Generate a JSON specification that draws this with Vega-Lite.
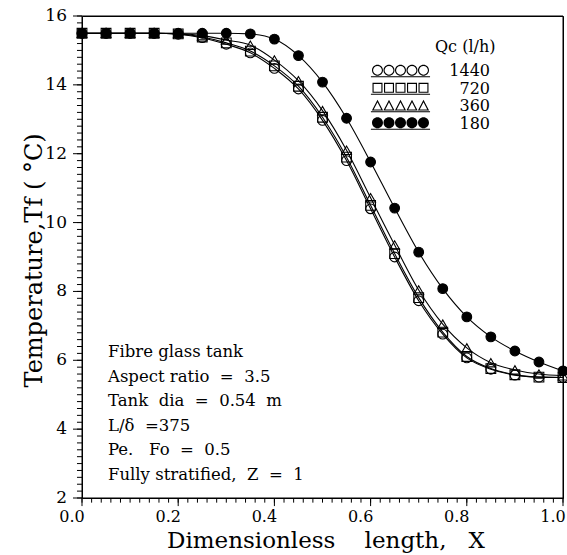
{
  "$schema": "https://vega.github.io/schema/vega-lite/v6.json",
  "width": 481,
  "height": 482,
  "autosize": "none",
  "padding": {"left": 82, "top": 16, "right": 4, "bottom": 57},
  "background": "white",
  "config": {
    "font": "DejaVu Serif",
    "view": {"stroke": "black", "strokeWidth": 1}
  },
  "datasets": {
    "xMinor": [
      {"v": 0.00}, {"v": 0.02}, {"v": 0.04}, {"v": 0.06}, {"v": 0.08}, {"v": 0.10}, {"v": 0.12}, {"v": 0.14}, {"v": 0.16}, {"v": 0.18},
      {"v": 0.20}, {"v": 0.22}, {"v": 0.24}, {"v": 0.26}, {"v": 0.28}, {"v": 0.30}, {"v": 0.32}, {"v": 0.34}, {"v": 0.36}, {"v": 0.38},
      {"v": 0.40}, {"v": 0.42}, {"v": 0.44}, {"v": 0.46}, {"v": 0.48}, {"v": 0.50}, {"v": 0.52}, {"v": 0.54}, {"v": 0.56}, {"v": 0.58},
      {"v": 0.60}, {"v": 0.62}, {"v": 0.64}, {"v": 0.66}, {"v": 0.68}, {"v": 0.70}, {"v": 0.72}, {"v": 0.74}, {"v": 0.76}, {"v": 0.78},
      {"v": 0.80}, {"v": 0.82}, {"v": 0.84}, {"v": 0.86}, {"v": 0.88}, {"v": 0.90}, {"v": 0.92}, {"v": 0.94}, {"v": 0.96}, {"v": 0.98},
      {"v": 1.00}
    ],
    "xMajor": [{"v": 0.0}, {"v": 0.2}, {"v": 0.4}, {"v": 0.6}, {"v": 0.8}, {"v": 1.0}],
    "yMinor": [
      {"v": 2.0}, {"v": 2.2}, {"v": 2.4}, {"v": 2.6}, {"v": 2.8}, {"v": 3.0}, {"v": 3.2}, {"v": 3.4}, {"v": 3.6}, {"v": 3.8},
      {"v": 4.0}, {"v": 4.2}, {"v": 4.4}, {"v": 4.6}, {"v": 4.8}, {"v": 5.0}, {"v": 5.2}, {"v": 5.4}, {"v": 5.6}, {"v": 5.8},
      {"v": 6.0}, {"v": 6.2}, {"v": 6.4}, {"v": 6.6}, {"v": 6.8}, {"v": 7.0}, {"v": 7.2}, {"v": 7.4}, {"v": 7.6}, {"v": 7.8},
      {"v": 8.0}, {"v": 8.2}, {"v": 8.4}, {"v": 8.6}, {"v": 8.8}, {"v": 9.0}, {"v": 9.2}, {"v": 9.4}, {"v": 9.6}, {"v": 9.8},
      {"v": 10.0}, {"v": 10.2}, {"v": 10.4}, {"v": 10.6}, {"v": 10.8}, {"v": 11.0}, {"v": 11.2}, {"v": 11.4}, {"v": 11.6}, {"v": 11.8},
      {"v": 12.0}, {"v": 12.2}, {"v": 12.4}, {"v": 12.6}, {"v": 12.8}, {"v": 13.0}, {"v": 13.2}, {"v": 13.4}, {"v": 13.6}, {"v": 13.8},
      {"v": 14.0}, {"v": 14.2}, {"v": 14.4}, {"v": 14.6}, {"v": 14.8}, {"v": 15.0}, {"v": 15.2}, {"v": 15.4}, {"v": 15.6}, {"v": 15.8},
      {"v": 16.0}
    ],
    "yMajor": [{"v": 2}, {"v": 4}, {"v": 6}, {"v": 8}, {"v": 10}, {"v": 12}, {"v": 14}, {"v": 16}],
    "profiles": [
      {"X": 0.00, "T": 15.50, "Qc": "1440"}, {"X": 0.05, "T": 15.50, "Qc": "1440"}, {"X": 0.10, "T": 15.50, "Qc": "1440"},
      {"X": 0.15, "T": 15.50, "Qc": "1440"}, {"X": 0.20, "T": 15.47, "Qc": "1440"}, {"X": 0.25, "T": 15.37, "Qc": "1440"},
      {"X": 0.30, "T": 15.18, "Qc": "1440"}, {"X": 0.35, "T": 14.93, "Qc": "1440"}, {"X": 0.40, "T": 14.48, "Qc": "1440"},
      {"X": 0.45, "T": 13.88, "Qc": "1440"}, {"X": 0.50, "T": 12.97, "Qc": "1440"}, {"X": 0.55, "T": 11.80, "Qc": "1440"},
      {"X": 0.60, "T": 10.40, "Qc": "1440"}, {"X": 0.65, "T": 9.00, "Qc": "1440"}, {"X": 0.70, "T": 7.73, "Qc": "1440"},
      {"X": 0.75, "T": 6.76, "Qc": "1440"}, {"X": 0.80, "T": 6.07, "Qc": "1440"}, {"X": 0.85, "T": 5.74, "Qc": "1440"},
      {"X": 0.90, "T": 5.57, "Qc": "1440"}, {"X": 0.95, "T": 5.51, "Qc": "1440"}, {"X": 1.00, "T": 5.50, "Qc": "1440"},

      {"X": 0.00, "T": 15.50, "Qc": "720"}, {"X": 0.05, "T": 15.50, "Qc": "720"}, {"X": 0.10, "T": 15.50, "Qc": "720"},
      {"X": 0.15, "T": 15.50, "Qc": "720"}, {"X": 0.20, "T": 15.48, "Qc": "720"}, {"X": 0.25, "T": 15.39, "Qc": "720"},
      {"X": 0.30, "T": 15.22, "Qc": "720"}, {"X": 0.35, "T": 14.98, "Qc": "720"}, {"X": 0.40, "T": 14.55, "Qc": "720"},
      {"X": 0.45, "T": 13.96, "Qc": "720"}, {"X": 0.50, "T": 13.06, "Qc": "720"}, {"X": 0.55, "T": 11.90, "Qc": "720"},
      {"X": 0.60, "T": 10.50, "Qc": "720"}, {"X": 0.65, "T": 9.10, "Qc": "720"}, {"X": 0.70, "T": 7.82, "Qc": "720"},
      {"X": 0.75, "T": 6.82, "Qc": "720"}, {"X": 0.80, "T": 6.11, "Qc": "720"}, {"X": 0.85, "T": 5.76, "Qc": "720"},
      {"X": 0.90, "T": 5.58, "Qc": "720"}, {"X": 0.95, "T": 5.51, "Qc": "720"}, {"X": 1.00, "T": 5.50, "Qc": "720"},

      {"X": 0.00, "T": 15.50, "Qc": "360"}, {"X": 0.05, "T": 15.50, "Qc": "360"}, {"X": 0.10, "T": 15.50, "Qc": "360"},
      {"X": 0.15, "T": 15.50, "Qc": "360"}, {"X": 0.20, "T": 15.49, "Qc": "360"}, {"X": 0.25, "T": 15.43, "Qc": "360"},
      {"X": 0.30, "T": 15.30, "Qc": "360"}, {"X": 0.35, "T": 15.15, "Qc": "360"}, {"X": 0.40, "T": 14.72, "Qc": "360"},
      {"X": 0.45, "T": 14.12, "Qc": "360"}, {"X": 0.50, "T": 13.25, "Qc": "360"}, {"X": 0.55, "T": 12.10, "Qc": "360"},
      {"X": 0.60, "T": 10.72, "Qc": "360"}, {"X": 0.65, "T": 9.35, "Qc": "360"}, {"X": 0.70, "T": 8.04, "Qc": "360"},
      {"X": 0.75, "T": 7.05, "Qc": "360"}, {"X": 0.80, "T": 6.36, "Qc": "360"}, {"X": 0.85, "T": 5.93, "Qc": "360"},
      {"X": 0.90, "T": 5.72, "Qc": "360"}, {"X": 0.95, "T": 5.60, "Qc": "360"}, {"X": 1.00, "T": 5.55, "Qc": "360"},

      {"X": 0.00, "T": 15.50, "Qc": "180"}, {"X": 0.05, "T": 15.50, "Qc": "180"}, {"X": 0.10, "T": 15.50, "Qc": "180"},
      {"X": 0.15, "T": 15.50, "Qc": "180"}, {"X": 0.20, "T": 15.50, "Qc": "180"}, {"X": 0.25, "T": 15.50, "Qc": "180"},
      {"X": 0.30, "T": 15.50, "Qc": "180"}, {"X": 0.35, "T": 15.48, "Qc": "180"}, {"X": 0.40, "T": 15.33, "Qc": "180"},
      {"X": 0.45, "T": 14.85, "Qc": "180"}, {"X": 0.50, "T": 14.08, "Qc": "180"}, {"X": 0.55, "T": 13.03, "Qc": "180"},
      {"X": 0.60, "T": 11.76, "Qc": "180"}, {"X": 0.65, "T": 10.42, "Qc": "180"}, {"X": 0.70, "T": 9.14, "Qc": "180"},
      {"X": 0.75, "T": 8.08, "Qc": "180"}, {"X": 0.80, "T": 7.26, "Qc": "180"}, {"X": 0.85, "T": 6.68, "Qc": "180"},
      {"X": 0.90, "T": 6.27, "Qc": "180"}, {"X": 0.95, "T": 5.95, "Qc": "180"}, {"X": 1.00, "T": 5.69, "Qc": "180"}
    ]
  },
  "data": {"name": "profiles"},
  "layer": [
    {
      "mark": {"type": "point", "stroke": "black", "strokeWidth": 1.1, "size": 95, "opacity": 1},
      "encoding": {
        "x": {"field": "X", "type": "quantitative", "scale": {"domain": [0, 1], "nice": false, "zero": false}, "axis": null},
        "y": {"field": "T", "type": "quantitative", "scale": {"domain": [2, 16], "nice": false, "zero": false}, "axis": null},
        "shape": {
          "field": "Qc",
          "type": "nominal",
          "scale": {"domain": ["1440", "720", "360", "180"], "range": ["circle", "square", "triangle-up", "circle"]},
          "legend": null
        },
        "fill": {
          "field": "Qc",
          "type": "nominal",
          "scale": {"domain": ["1440", "720", "360", "180"], "range": ["transparent", "transparent", "transparent", "black"]},
          "legend": null
        }
      }
    },
    {
      "mark": {"type": "line", "interpolate": "monotone", "color": "black", "strokeWidth": 1.1},
      "encoding": {
        "x": {"field": "X", "type": "quantitative", "axis": null},
        "y": {"field": "T", "type": "quantitative", "axis": null},
        "detail": {"field": "Qc"}
      }
    },
    {
      "data": {"name": "xMinor"},
      "mark": {"type": "rule", "color": "black", "strokeWidth": 1},
      "encoding": {
        "x": {"field": "v", "type": "quantitative", "axis": null},
        "y": {"datum": 2, "type": "quantitative", "axis": null},
        "y2": {"datum": 1.865}
      }
    },
    {
      "data": {"name": "xMajor"},
      "mark": {"type": "rule", "color": "black", "strokeWidth": 1},
      "encoding": {
        "x": {"field": "v", "type": "quantitative", "axis": null},
        "y": {"datum": 2, "type": "quantitative", "axis": null},
        "y2": {"datum": 1.765}
      }
    },
    {
      "data": {"name": "yMinor"},
      "mark": {"type": "rule", "color": "black", "strokeWidth": 1},
      "encoding": {
        "y": {"field": "v", "type": "quantitative", "axis": null},
        "x": {"datum": 0, "type": "quantitative", "axis": null},
        "x2": {"datum": -0.0104}
      }
    },
    {
      "data": {"name": "yMajor"},
      "mark": {"type": "rule", "color": "black", "strokeWidth": 1},
      "encoding": {
        "y": {"field": "v", "type": "quantitative", "axis": null},
        "x": {"datum": 0, "type": "quantitative", "axis": null},
        "x2": {"datum": -0.0187}
      }
    },
    {
      "data": {"name": "xMajor"},
      "mark": {"type": "text", "font": "DejaVu Serif", "fontSize": 16, "color": "black", "align": "center", "baseline": "middle", "dx": -10, "dy": 19},
      "encoding": {
        "x": {"field": "v", "type": "quantitative", "axis": null},
        "y": {"datum": 2, "type": "quantitative", "axis": null},
        "text": {"field": "v", "type": "quantitative", "format": ".1f"}
      }
    },
    {
      "data": {"name": "yMajor"},
      "mark": {"type": "text", "font": "DejaVu Serif", "fontSize": 17, "color": "black", "align": "right", "baseline": "middle", "dx": -15},
      "encoding": {
        "y": {"field": "v", "type": "quantitative", "axis": null},
        "x": {"datum": 0, "type": "quantitative", "axis": null},
        "text": {"field": "v", "type": "quantitative", "format": "d"}
      }
    },
    {
      "data": {"values": [{"axis": "x"}]},
      "mark": {"type": "text", "font": "DejaVu Serif", "fontSize": 23, "color": "black", "align": "center", "baseline": "middle", "dy": 43, "text": "Dimensionless\u00a0\u00a0\u00a0\u00a0length,\u00a0\u00a0\u00a0X"},
      "encoding": {
        "x": {"datum": 0.507, "type": "quantitative", "axis": null},
        "y": {"datum": 2, "type": "quantitative", "axis": null}
      }
    },
    {
      "data": {"values": [{"axis": "y"}]},
      "mark": {"type": "text", "font": "DejaVu Serif", "fontSize": 24, "color": "black", "align": "center", "baseline": "middle", "angle": 270, "text": "Temperature,Tf\u00a0(\u00a0°C)"},
      "encoding": {
        "x": {"datum": -0.0977, "type": "quantitative", "axis": null},
        "y": {"datum": 8.9, "type": "quantitative", "axis": null}
      }
    },
    {
      "data": {"values": [{"edge": "left"}]},
      "mark": {"type": "rule", "color": "black", "strokeWidth": 1},
      "encoding": {"x": {"datum": 0, "type": "quantitative", "axis": null}}
    },
    {
      "data": {"values": [{"edge": "right"}]},
      "mark": {"type": "rule", "color": "black", "strokeWidth": 1},
      "encoding": {"x": {"datum": 1, "type": "quantitative", "axis": null}}
    },
    {
      "data": {"values": [{"edge": "bottom"}]},
      "mark": {"type": "rule", "color": "black", "strokeWidth": 1},
      "encoding": {"y": {"datum": 2, "type": "quantitative", "axis": null}}
    },
    {
      "data": {"values": [{"edge": "top"}]},
      "mark": {"type": "rule", "color": "black", "strokeWidth": 1},
      "encoding": {"y": {"datum": 16, "type": "quantitative", "axis": null}}
    },
    {
      "transform": [{"filter": "false"}],
      "mark": {"type": "point", "filled": true, "color": "black", "opacity": 1},
      "encoding": {
        "shape": {
          "field": "Qc",
          "type": "nominal",
          "scale": {
            "domain": ["1440", "720", "360", "180"],
            "range": [
              "M-2,-0.1A0.786,0.786 0 1 1 -3.572,-0.1A0.786,0.786 0 1 1 -2,-0.1Z M-2.156,-0.1A0.63,0.63 0 1 0 -3.416,-0.1A0.63,0.63 0 1 0 -2.156,-0.1Z M-3.643,-0.1A0.786,0.786 0 1 1 -5.215,-0.1A0.786,0.786 0 1 1 -3.643,-0.1Z M-3.799,-0.1A0.63,0.63 0 1 0 -5.059,-0.1A0.63,0.63 0 1 0 -3.799,-0.1Z M-5.285,-0.1A0.786,0.786 0 1 1 -6.857,-0.1A0.786,0.786 0 1 1 -5.285,-0.1Z M-5.441,-0.1A0.63,0.63 0 1 0 -6.701,-0.1A0.63,0.63 0 1 0 -5.441,-0.1Z M-6.928,-0.1A0.786,0.786 0 1 1 -8.5,-0.1A0.786,0.786 0 1 1 -6.928,-0.1Z M-7.084,-0.1A0.63,0.63 0 1 0 -8.344,-0.1A0.63,0.63 0 1 0 -7.084,-0.1Z M-8.571,-0.1A0.786,0.786 0 1 1 -10.143,-0.1A0.786,0.786 0 1 1 -8.571,-0.1Z M-8.727,-0.1A0.63,0.63 0 1 0 -9.987,-0.1A0.63,0.63 0 1 0 -8.727,-0.1Z M-10.3,0.76H-1.85V0.9H-10.3Z",
              "M-3.5,-0.814H-2.072V0.614H-3.5Z M-3.34,-0.654V0.454H-2.232V-0.654Z M-5.143,-0.814H-3.715V0.614H-5.143Z M-4.983,-0.654V0.454H-3.875V-0.654Z M-6.785,-0.814H-5.357V0.614H-6.785Z M-6.625,-0.654V0.454H-5.517V-0.654Z M-8.428,-0.814H-7V0.614H-8.428Z M-8.268,-0.654V0.454H-7.16V-0.654Z M-10.071,-0.814H-8.643V0.614H-10.071Z M-9.911,-0.654V0.454H-8.803V-0.654Z M-10.3,0.76H-1.85V0.9H-10.3Z",
              "M-2.786,-0.9L-1.986,0.65L-3.586,0.65Z M-2.786,-0.55L-3.323,0.49L-2.249,0.49Z M-4.429,-0.9L-3.629,0.65L-5.229,0.65Z M-4.429,-0.55L-4.966,0.49L-3.892,0.49Z M-6.071,-0.9L-5.271,0.65L-6.871,0.65Z M-6.071,-0.55L-6.608,0.49L-5.534,0.49Z M-7.714,-0.9L-6.914,0.65L-8.514,0.65Z M-7.714,-0.55L-8.251,0.49L-7.177,0.49Z M-9.357,-0.9L-8.557,0.65L-10.157,0.65Z M-9.357,-0.55L-9.894,0.49L-8.82,0.49Z M-10.3,0.76H-1.85V0.9H-10.3Z",
              "M-2,-0.1A0.786,0.786 0 1 1 -3.572,-0.1A0.786,0.786 0 1 1 -2,-0.1Z M-3.643,-0.1A0.786,0.786 0 1 1 -5.215,-0.1A0.786,0.786 0 1 1 -3.643,-0.1Z M-5.285,-0.1A0.786,0.786 0 1 1 -6.857,-0.1A0.786,0.786 0 1 1 -5.285,-0.1Z M-6.928,-0.1A0.786,0.786 0 1 1 -8.5,-0.1A0.786,0.786 0 1 1 -6.928,-0.1Z M-8.571,-0.1A0.786,0.786 0 1 1 -10.143,-0.1A0.786,0.786 0 1 1 -8.571,-0.1Z M-10.3,0.76H-1.85V0.9H-10.3Z"
            ]
          },
          "legend": {
            "orient": "none",
            "legendX": 353,
            "legendY": 23,
            "padding": 0,
            "title": "Qc (l/h)",
            "titleFont": "DejaVu Serif",
            "titleFontSize": 16,
            "titleFontWeight": "normal",
            "titleColor": "black",
            "titlePadding": 8,
            "labelFont": "DejaVu Serif",
            "labelFontSize": 16,
            "labelColor": "black",
            "labelAlign": "right",
            "labelOffset": 39,
            "symbolSize": 196,
            "symbolFillColor": "black",
            "symbolStrokeWidth": 0,
            "rowPadding": 1.5
          }
        }
      }
    },
    {
      "data": {"values": [{"note": "tank"}]},
      "mark": {
        "type": "text",
        "align": "left",
        "baseline": "top",
        "font": "DejaVu Serif",
        "fontSize": 16.5,
        "lineHeight": 24.5,
        "color": "black"
      },
      "encoding": {
        "x": {"datum": 0.054, "type": "quantitative", "axis": null},
        "y": {"datum": 6.47, "type": "quantitative", "axis": null},
        "text": {"value": ["Fibre glass tank", "Aspect ratio\u00a0 =\u00a0 3.5", "Tank\u00a0 dia\u00a0 =\u00a0 0.54\u00a0 m", "L/δ\u00a0 =375", "Pe.\u00a0\u00a0 Fo\u00a0 =\u00a0 0.5", "Fully stratified,\u00a0 Z\u00a0 =\u00a0 1"]}
      }
    }
  ],
  "resolve": {
    "scale": {"shape": "independent"},
    "legend": {"shape": "independent"}
  }
}
